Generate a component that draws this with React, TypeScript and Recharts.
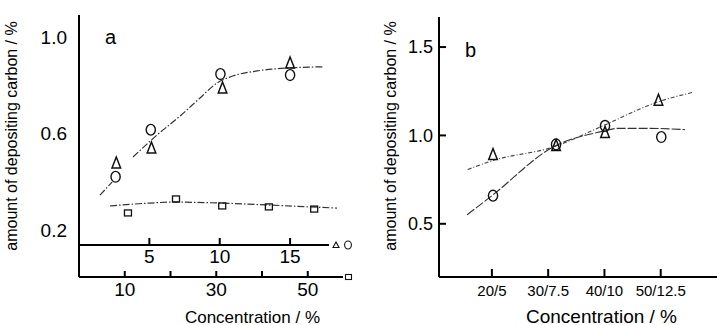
import React from 'react';
import { ComposedChart, XAxis, YAxis, Line, Scatter } from 'recharts';

const FONT = 'Arial, "Liberation Sans", Helvetica, sans-serif';

// ---------- Panel a ----------
const aTopTicks = [5, 10, 15];
const aBottomTicks = [10, 20, 30, 40, 50];
const aBottomTickLabels = ['10', '', '30', '', '50'];
const aYTicks = [0.2, 0.6, 1.0];
const aCircleX = [2.6, 5.1, 10.05, 15.0];
const aCircleY = [0.42, 0.615, 0.846, 0.842];
const aTriangleX = [2.65, 5.15, 10.2, 15.0];
const aTriangleY = [0.477, 0.539, 0.788, 0.892];
const aSquareX = [10.7, 21.2, 31.3, 41.5, 51.4];
const aSquareY = [0.27, 0.328, 0.299, 0.295, 0.286];
const aFitX = [1.49, 2.35, 3.0, 3.84, 5.54, 7.18, 8.6, 9.81, 10.73, 12.65, 14.78, 17.34];
const aFitY = [0.344, 0.398, null, 0.502, 0.593, 0.672, 0.747, 0.809, 0.834, 0.859, 0.871, 0.876];
const aSquareFitX = [6.8, 15.5, 20.5, 30.8, 41.1, 50.5, 56.4];
const aSquareFitY = [0.299, 0.311, 0.315, 0.311, 0.303, 0.295, 0.29];

// ---------- Panel b ----------
const bTicks = [20, 30, 40, 50];
const bTickLabels = ['20/5', '30/7.5', '40/10', '50/12.5'];
const bYTicks = [0.5, 1.0, 1.5];
const bTriangleX = [20.2, 31.4, 40.1, 49.6];
const bTriangleY = [0.892, 0.943, 1.017, 1.199];
const bCircleX = [20.2, 31.4, 40.1, 50.1];
const bCircleY = [0.659, 0.949, 1.054, 0.991];
const bFitAX = [15.7, 20.2, 31.2, 39.9, 49.3, 55.7];
const bFitAY = [0.807, 0.858, 0.9375, 1.057, 1.1875, 1.244];
const bFitBX = [15.6, 20.0, 31.2, 39.2, 42.5, 48.0, 54.3];
const bFitBY = [0.551, 0.659, 0.94, 1.02, 1.04, 1.04, 1.033];

const zip = (xs: number[], ys: (number | null)[]) => xs.map((x, i) => ({ x, y: ys[i] }));

const aCircles = zip(aCircleX, aCircleY);
const aTriangles = zip(aTriangleX, aTriangleY);
const aSquares = zip(aSquareX, aSquareY);
const aFit = zip(aFitX, aFitY);
const aSquareFit = zip(aSquareFitX, aSquareFitY);
const bTriangles = zip(bTriangleX, bTriangleY);
const bCircles = zip(bCircleX, bCircleY);
const bFitA = zip(bFitAX, bFitAY);
const bFitB = zip(bFitBX, bFitBY);

const INK = '#111';

const CircleMark = (p: any) =>
  p.cx == null ? null : (
    <ellipse cx={p.cx} cy={p.cy} rx={4.6} ry={5.4} fill="none" stroke={INK} strokeWidth={1.4} />
  );
const TriangleMark = (p: any) =>
  p.cx == null ? null : (
    <polygon
      points={`${p.cx},${p.cy - 6} ${p.cx - 4.3},${p.cy + 5} ${p.cx + 4.3},${p.cy + 5}`}
      fill="none"
      stroke={INK}
      strokeWidth={1.5}
    />
  );
const SquareMark = (p: any) =>
  p.cx == null ? null : (
    <rect x={p.cx - 3.5} y={p.cy - 3} width={7} height={6} fill="none" stroke={INK} strokeWidth={1.3} />
  );

const axisLine = { stroke: '#000', strokeWidth: 2 };
const tickLine = { stroke: '#000', strokeWidth: 2 };

const YTitle = (dx: number, dy: number) => (props: any) => {
  const vb = props.viewBox || {};
  const px = vb.x + dx;
  const py = vb.y + vb.height / 2 + dy;
  return (
    <text
      x={px}
      y={py}
      transform={`rotate(-90 ${px} ${py})`}
      textAnchor="middle"
      fontSize={16}
      fontFamily={FONT}
      fill="#000"
    >
      amount of depositing carbon / %
    </text>
  );
};

const XTitle = (dx: number, fontSize: number) => (props: any) => {
  const vb = props.viewBox || {};
  return (
    <text
      x={vb.x + vb.width / 2 + dx}
      y={vb.y + vb.height - 2.5}
      textAnchor="middle"
      fontSize={fontSize}
      fontFamily={FONT}
      fill="#000"
    >
      Concentration / %
    </text>
  );
};

const TopAxisDecor = (props: any) => {
  const vb = props.viewBox || {};
  const x0 = vb.x;
  const y0 = vb.y;
  const xe = vb.x + vb.width - 14;
  return (
    <g>
      <line x1={x0} y1={y0} x2={xe} y2={y0} stroke="#000" strokeWidth={2} />
      <line x1={x0} y1={y0} x2={x0} y2={y0 + vb.height} stroke="#000" strokeWidth={2} />
      <polygon
        points={`${xe + 7},${y0 - 3} ${xe + 4},${y0 + 2.5} ${xe + 10},${y0 + 2.5}`}
        fill="none"
        stroke={INK}
        strokeWidth={1.1}
      />
      <ellipse cx={xe + 19} cy={y0} rx={3.4} ry={4} fill="none" stroke={INK} strokeWidth={1.1} />
    </g>
  );
};

const BottomAxisDecor = (props: any) => {
  const vb = props.viewBox || {};
  const xe = vb.x + vb.width;
  const y0 = vb.y;
  return (
    <g>
      <rect x={xe + 2.5} y={y0 - 2.5} width={6} height={5} fill="none" stroke={INK} strokeWidth={1.1} />
      {XTitle(41.5, 17)(props)}
    </g>
  );
};

const tickA = { fill: '#000', fontSize: 19, fontFamily: FONT };
const tickBY = { fill: '#000', fontSize: 18, fontFamily: FONT };
const tickBX = { fill: '#000', fontSize: 15, fontFamily: FONT };

function PanelA() {
  return (
    <ComposedChart width={360} height={325} margin={{ top: 15, right: 17, bottom: 0, left: 0 }}>
      <XAxis
        xAxisId="x2"
        type="number"
        dataKey="x"
        domain={[0, 57.7]}
        allowDataOverflow
        ticks={aBottomTicks}
        tickFormatter={(v: number) => aBottomTickLabels[aBottomTicks.indexOf(v)] ?? ''}
        height={48}
        axisLine={axisLine}
        tickLine={tickLine}
        tickSize={-6}
        tickMargin={12}
        tick={tickA}
        interval={0}
        label={BottomAxisDecor}
      />
      <XAxis
        xAxisId="x1"
        type="number"
        dataKey="x"
        domain={[0, 18.76]}
        allowDataOverflow
        ticks={aTopTicks}
        height={32}
        axisLine={false}
        tickLine={tickLine}
        tickSize={-7}
        tickMargin={12}
        tick={tickA}
        interval={0}
        label={TopAxisDecor}
      />
      <YAxis
        yAxisId="a"
        type="number"
        domain={[0.137, 1.091]}
        allowDataOverflow
        ticks={aYTicks}
        tickFormatter={(v: number) => v.toFixed(1)}
        width={79}
        axisLine={axisLine}
        tickLine={false}
        tickSize={0}
        tickMargin={12}
        tick={tickA}
        interval={0}
        label={YTitle(16.5, 6)}
      />
      <Line
        xAxisId="x1"
        yAxisId="a"
        data={aFit}
        dataKey="y"
        type="monotone"
        dot={false}
        stroke="#333"
        strokeWidth={1.2}
        strokeDasharray="7 2 1.5 2"
        connectNulls={false}
        isAnimationActive={false}
      />
      <Line
        xAxisId="x2"
        yAxisId="a"
        data={aSquareFit}
        dataKey="y"
        type="monotone"
        dot={false}
        stroke="#333"
        strokeWidth={1.2}
        strokeDasharray="7 2 1.5 2"
        isAnimationActive={false}
      />
      <Scatter xAxisId="x1" yAxisId="a" data={aCircles} dataKey="y" shape={CircleMark} isAnimationActive={false} />
      <Scatter xAxisId="x1" yAxisId="a" data={aTriangles} dataKey="y" shape={TriangleMark} isAnimationActive={false} />
      <Scatter xAxisId="x2" yAxisId="a" data={aSquares} dataKey="y" shape={SquareMark} isAnimationActive={false} />
      <text x={105} y={44} fontSize={20} fontFamily={FONT} fill="#000">
        a
      </text>
    </ComposedChart>
  );
}

function PanelB() {
  return (
    <ComposedChart width={357} height={325} margin={{ top: 17, right: 0, bottom: 0, left: 0 }}>
      <XAxis
        xAxisId="b"
        type="number"
        dataKey="x"
        domain={[10.6, 60]}
        allowDataOverflow
        ticks={bTicks}
        tickFormatter={(v: number) => bTickLabels[bTicks.indexOf(v)] ?? ''}
        height={48}
        axisLine={axisLine}
        tickLine={tickLine}
        tickSize={-8}
        tickMargin={16}
        tick={tickBX}
        interval={0}
        label={XTitle(23.5, 19)}
      />
      <YAxis
        yAxisId="b"
        type="number"
        domain={[0.199, 1.67]}
        allowDataOverflow
        ticks={bYTicks}
        tickFormatter={(v: number) => v.toFixed(1)}
        width={79}
        axisLine={axisLine}
        tickLine={tickLine}
        tickSize={-7}
        tickMargin={13}
        tick={tickBY}
        interval={0}
        label={YTitle(35.5, -11)}
      />
      <Line
        xAxisId="b"
        yAxisId="b"
        data={bFitA}
        dataKey="y"
        type="monotone"
        dot={false}
        stroke="#444"
        strokeWidth={1.1}
        strokeDasharray="4 2 1 2"
        isAnimationActive={false}
      />
      <Line
        xAxisId="b"
        yAxisId="b"
        data={bFitB}
        dataKey="y"
        type="monotone"
        dot={false}
        stroke="#333"
        strokeWidth={1.1}
        strokeDasharray="9 2"
        isAnimationActive={false}
      />
      <Scatter xAxisId="b" yAxisId="b" data={bTriangles} dataKey="y" shape={TriangleMark} isAnimationActive={false} />
      <Scatter xAxisId="b" yAxisId="b" data={bCircles} dataKey="y" shape={CircleMark} isAnimationActive={false} />
      <text x={105} y={57} fontSize={20} fontFamily={FONT} fill="#000">
        b
      </text>
    </ComposedChart>
  );
}

export default function App() {
  return (
    <div style={{ position: 'absolute', left: 0, top: 0, width: 717, height: 325, background: '#fff', overflow: 'hidden' }}>
      <div style={{ position: 'absolute', left: 0, top: 0 }}>
        <PanelA />
      </div>
      <div style={{ position: 'absolute', left: 360, top: 0 }}>
        <PanelB />
      </div>
    </div>
  );
}
